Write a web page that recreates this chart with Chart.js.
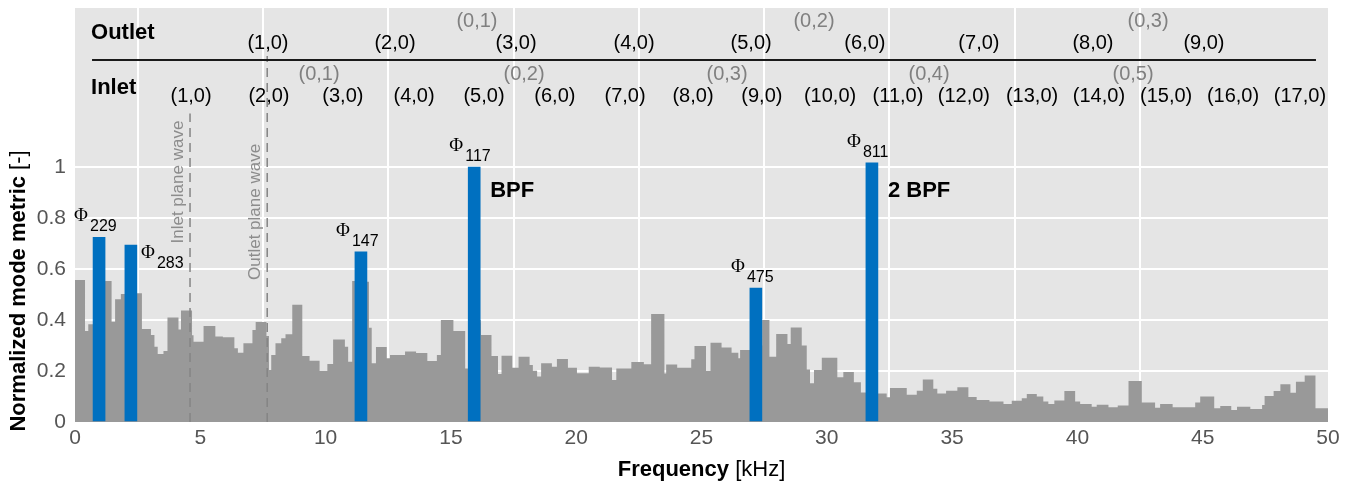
<!DOCTYPE html>
<html>
<head>
<meta charset="utf-8">
<script src="https://cdn.jsdelivr.net/npm/chart.js@4.4.1/dist/chart.umd.min.js"></script>
<style>
  html, body { margin: 0; padding: 0; background: #fff; }
  #wrap { width: 1360px; height: 486px; position: relative; }
</style>
</head>
<body>
<div id="wrap"><canvas id="modeChart"></canvas></div>
<script>
// Normalized mode metric spectrum

// gray spectrum: left edge of each step [kHz] and its value
const stepFreq = [
  0, 0.4, 0.53, 0.72, 1.2, 1.46, 1.6, 1.83, 2.0, 2.67, 3.03, 3.17, 3.3, 3.53, 3.69, 4.13, 4.23, 4.67, 4.73,
  5.13, 5.6, 5.9, 6.36, 6.5, 6.72, 7.08, 7.21, 7.64, 7.74, 7.83, 8.0, 8.23, 8.4, 8.67, 9.07, 9.36, 9.76,
  10.07, 10.3, 10.77, 10.9, 11.06, 11.26, 11.73, 11.84, 12.01, 12.44, 12.57, 13.17, 13.61, 14.06, 14.44, 14.6,
  15.1, 15.57, 15.7, 16.17, 16.2, 16.62, 16.88, 17.02, 17.45, 17.7, 18.14, 18.27, 18.44, 18.6, 19.03, 19.23,
  19.67, 20.03, 20.5, 20.94, 21.43, 21.6, 22.2, 22.7, 22.99, 23.52, 23.59, 24.03, 24.59, 24.72, 25.18, 25.36,
  25.8, 26.2, 26.47, 26.54, 26.94, 27.42, 27.71, 27.98, 28.43, 28.56, 29.0, 29.2, 29.33, 29.49, 29.8, 30.42,
  30.66, 31.08, 31.36, 31.56, 32.03, 32.39, 32.52, 33.19, 33.59, 33.83, 34.25, 34.41, 34.76, 35.21, 35.65,
  35.98, 36.49, 37.05, 37.38, 37.78, 37.98, 38.38, 38.64, 38.84, 39.08, 39.48, 39.91, 40.11, 40.57, 40.77,
  41.24, 41.61, 42.04, 42.57, 43.1, 43.3, 43.8, 44.7, 44.9, 45.46, 45.7, 46.14, 46.37, 46.9, 47.37, 47.47,
  47.83, 48.1, 48.5, 48.72, 49.07, 49.5, 50
];
const stepValue = [
  0.557, 0.357, 0.383, 0.55, 0.553, 0.393, 0.481, 0.502, 0.505, 0.365, 0.341, 0.295, 0.267, 0.278, 0.41, 0.363, 0.437, 0.34, 0.315,
  0.376, 0.335, 0.332, 0.289, 0.272, 0.309, 0.361, 0.392, 0.337, 0.204, 0.263, 0.309, 0.328, 0.344, 0.46, 0.259, 0.24, 0.201,
  0.227, 0.324, 0.295, 0.236, 0.553, 0.55, 0.37, 0.23, 0.294, 0.25, 0.263, 0.276, 0.271, 0.239, 0.263, 0.4,
  0.357, 0.21, 0.39, 0.4, 0.341, 0.259, 0.188, 0.26, 0.213, 0.256, 0.224, 0.201, 0.178, 0.23, 0.217, 0.247,
  0.213, 0.191, 0.217, 0.214, 0.165, 0.21, 0.235, 0.226, 0.424, 0.19, 0.225, 0.213, 0.246, 0.298, 0.201, 0.311,
  0.292, 0.272, 0.25, 0.282, 0.3, 0.4, 0.256, 0.345, 0.306, 0.371, 0.3, 0.206, 0.152, 0.204, 0.252, 0.175,
  0.196, 0.156, 0.116, 0.115, 0.112, 0.097, 0.133, 0.107, 0.123, 0.167, 0.13, 0.112, 0.123, 0.136, 0.098,
  0.086, 0.08, 0.071, 0.083, 0.093, 0.11, 0.1, 0.08, 0.071, 0.084, 0.122, 0.08, 0.071, 0.06, 0.068,
  0.058, 0.065, 0.161, 0.076, 0.056, 0.071, 0.058, 0.076, 0.1, 0.054, 0.063, 0.047, 0.06, 0.051, 0.067, 0.102,
  0.122, 0.148, 0.115, 0.158, 0.182, 0.054, 0.054
];

// highlighted modes (blue)
const peakFreq = [0.96, 2.23, 11.41, 15.93, 27.17, 31.8];
const peakValue = [0.724, 0.694, 0.667, 1.0, 0.525, 1.016];
const peakLabel = ['229', '283', '147', '117', '475', '811'];
const bpfLabel = ['', '', '', 'BPF', '', '2 BPF'];

// cut-on frequencies of duct modes [kHz]
const outletModes = ['(1,0)', '(2,0)', '(3,0)', '(4,0)', '(5,0)', '(6,0)', '(7,0)', '(8,0)', '(9,0)'];
const outletFreq = [7.70, 12.77, 17.60, 22.31, 26.98, 31.52, 36.07, 40.62, 45.05];
const outletRadial = ['(0,1)', '(0,2)', '(0,3)'];
const outletRadialFreq = [16.04, 29.49, 42.82];
const inletModes = ['(1,0)', '(2,0)', '(3,0)', '(4,0)', '(5,0)', '(6,0)', '(7,0)', '(8,0)', '(9,0)',
  '(10,0)', '(11,0)', '(12,0)', '(13,0)', '(14,0)', '(15,0)', '(16,0)', '(17,0)'];
const inletFreq = [4.63, 7.74, 10.69, 13.53, 16.32, 19.15, 21.95, 24.66, 27.41,
  30.13, 32.84, 35.47, 38.19, 40.86, 43.54, 46.21, 48.88];
const inletRadial = ['(0,1)', '(0,2)', '(0,3)', '(0,4)', '(0,5)'];
const inletRadialFreq = [9.74, 17.92, 26.02, 34.08, 42.22];

const planeWaveFreq = [4.59, 7.67];
const planeWaveLabel = ['Inlet plane wave', 'Outlet plane wave'];

const xTicks = [0, 5, 10, 15, 20, 25, 30, 35, 40, 45, 50];
const yTicks = [0, 0.2, 0.4, 0.6, 0.8, 1];

const SANS = '"Liberation Sans", Arial, Helvetica, sans-serif';
const NARROW = '"Liberation Sans Narrow", "Liberation Sans", Arial, sans-serif';

const overlay = {
  id: 'overlay',
  beforeDraw(chart) {
    const { ctx, chartArea: a } = chart;
    ctx.save();
    ctx.fillStyle = '#ffffff';
    ctx.fillRect(0, 0, chart.width, chart.height);
    ctx.fillStyle = '#e5e5e5';
    ctx.fillRect(a.left, a.top, a.right - a.left, a.bottom - a.top);
    ctx.restore();
  },
  afterDatasetsDraw(chart) {
    const { ctx, scales: { x, y } } = chart;
    ctx.save();

    // plane wave cut-on lines
    const lineTop = [1.21, 1.435];
    const textBottom = [0.70, 0.557];
    ctx.strokeStyle = '#858585';
    ctx.lineWidth = 1.5;
    ctx.setLineDash([9, 6]);
    planeWaveFreq.forEach((f, i) => {
      const px = x.getPixelForValue(f);
      ctx.beginPath();
      ctx.moveTo(px, y.getPixelForValue(0));
      ctx.lineTo(px, y.getPixelForValue(lineTop[i]));
      ctx.stroke();
    });
    ctx.setLineDash([]);
    ctx.fillStyle = '#8c8c8c';
    ctx.font = '17px ' + SANS;
    ctx.textAlign = 'left';
    ctx.textBaseline = 'middle';
    planeWaveFreq.forEach((f, i) => {
      ctx.save();
      ctx.translate(x.getPixelForValue(f) - 12, y.getPixelForValue(textBottom[i]));
      ctx.rotate(-Math.PI / 2);
      ctx.fillText(planeWaveLabel[i], 0, 0);
      ctx.restore();
    });

    // Phi labels above the highlighted bars
    peakFreq.forEach((f, i) => {
      const cx = x.getPixelForValue(f);
      const top = y.getPixelForValue(peakValue[i]);
      const right = peakLabel[i] === '283';
      const phiX = right ? cx + 17 : cx - 18;
      const phiY = right ? top + 8 : top - 21;
      ctx.fillStyle = '#000';
      ctx.textAlign = 'center';
      ctx.textBaseline = 'middle';
      ctx.font = '19px "Liberation Serif", "DejaVu Serif", serif';
      ctx.fillText('\u03A6', phiX, phiY);
      ctx.textAlign = 'left';
      ctx.font = '16px ' + SANS;
      ctx.fillText(peakLabel[i], phiX + 9, phiY + 10.5);
      if (bpfLabel[i]) {
        ctx.font = 'bold 22px ' + SANS;
        ctx.fillText(bpfLabel[i], cx + 16, y.getPixelForValue(0.905));
      }
    });

    // mode cut-on header rows
    const row = (labels, freqs, level, color) => {
      ctx.fillStyle = color;
      ctx.font = '20px ' + SANS;
      ctx.textAlign = 'center';
      ctx.textBaseline = 'middle';
      labels.forEach((t, i) => ctx.fillText(t, x.getPixelForValue(freqs[i]), y.getPixelForValue(level)));
    };
    row(outletModes, outletFreq, 1.486, '#000');
    row(outletRadial, outletRadialFreq, 1.569, '#808080');
    row(inletModes, inletFreq, 1.275, '#000');
    row(inletRadial, inletRadialFreq, 1.361, '#808080');

    ctx.fillStyle = '#000';
    ctx.font = 'bold 22px ' + SANS;
    ctx.textAlign = 'left';
    ctx.fillText('Outlet', x.getPixelForValue(0.64), y.getPixelForValue(1.525));
    ctx.fillText('Inlet', x.getPixelForValue(0.64), y.getPixelForValue(1.31));

    ctx.strokeStyle = '#1a1a1a';
    ctx.lineWidth = 2;
    ctx.beginPath();
    ctx.moveTo(x.getPixelForValue(0.68), y.getPixelForValue(1.42));
    ctx.lineTo(x.getPixelForValue(49.52), y.getPixelForValue(1.42));
    ctx.stroke();

    // axis titles, bold part + plain unit
    const title = (bold, plain, cx, cy, rot) => {
      ctx.save();
      ctx.translate(cx, cy);
      ctx.rotate(rot);
      ctx.font = 'bold 22px ' + SANS;
      const wb = ctx.measureText(bold).width;
      ctx.font = '22px ' + SANS;
      const wp = ctx.measureText(plain).width;
      ctx.textAlign = 'left';
      ctx.textBaseline = 'middle';
      ctx.fillStyle = '#000';
      ctx.font = 'bold 22px ' + SANS;
      ctx.fillText(bold, -(wb + wp) / 2, 0);
      ctx.font = '22px ' + SANS;
      ctx.fillText(plain, -(wb + wp) / 2 + wb, 0);
      ctx.restore();
    };
    title('Frequency', ' [kHz]', (x.left + x.right) / 2, 470, 0);
    title('Normalized mode metric', ' [-]', 19, y.getPixelForValue(0.514), -Math.PI / 2);

    ctx.restore();
  }
};

const steps = stepFreq.map((f, i) => ({ x: f, y: stepValue[i] }));
const peaks = peakFreq.map((f, i) => ({ x: f, y: peakValue[i] }));

new Chart(document.getElementById('modeChart'), {
  type: 'bar',
  data: {
    datasets: [
      {
        type: 'bar',
        label: 'Highlighted modes',
        data: peaks,
        backgroundColor: '#0070c0',
        barThickness: 12,
        order: 0
      },
      {
        type: 'line',
        label: 'Mode metric',
        data: steps,
        stepped: 'before',
        fill: 'origin',
        backgroundColor: '#999999',
        borderWidth: 0,
        pointRadius: 0,
        order: 1
      }
    ]
  },
  options: {
    responsive: true,
    maintainAspectRatio: false,
    animation: false,
    layout: { padding: { top: 8, right: 32, left: 0, bottom: 0 } },
    plugins: {
      legend: { display: false },
      tooltip: { enabled: false }
    },
    scales: {
      x: {
        type: 'linear',
        min: 0,
        max: 50,
        offset: false,
        afterBuildTicks: (s) => { s.ticks = xTicks.map(v => ({ value: v })); },
        afterFit: (s) => { s.height = 64; s.paddingLeft = 0; s.paddingRight = 0; },
        grid: {
          drawTicks: false,
          lineWidth: 2,
          color: (c) => (c.tick && (c.tick.value === 0 || c.tick.value === 50)) ? 'rgba(0,0,0,0)' : '#ffffff'
        },
        border: { display: false },
        ticks: {
          color: '#555555',
          padding: 4,
          font: { family: NARROW, size: 21 },
          callback: (v) => String(v)
        }
      },
      y: {
        min: 0,
        max: 1.6235,
        afterBuildTicks: (s) => { s.ticks = yTicks.map(v => ({ value: v })); },
        afterFit: (s) => { s.width = 75; s.paddingTop = 0; s.paddingBottom = 0; },
        grid: {
          drawTicks: false,
          lineWidth: 2,
          color: '#ffffff'
        },
        border: { display: false },
        ticks: {
          color: '#555555',
          padding: 9,
          font: { family: NARROW, size: 21 },
          callback: (v) => String(v)
        }
      }
    }
  },
  plugins: [overlay]
});
</script>
</body>
</html>
